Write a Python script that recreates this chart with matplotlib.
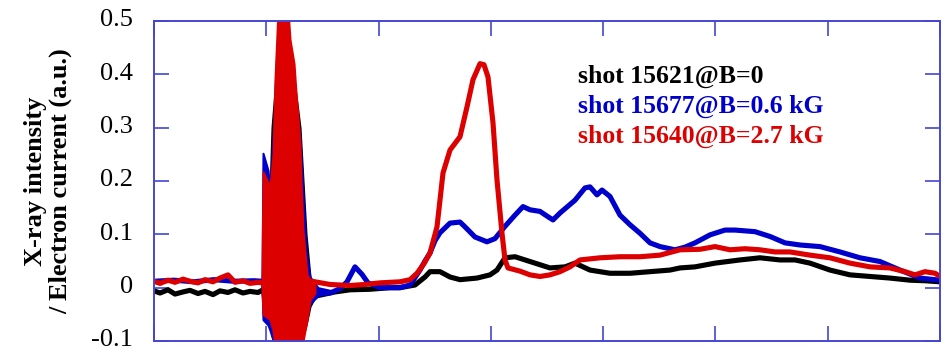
import matplotlib
matplotlib.use("Agg")
import matplotlib.pyplot as plt
import matplotlib.transforms as mtransforms
import numpy as np

plt.rcParams['font.family'] = ['Liberation Serif', 'DejaVu Serif']

# x in arbitrary sample units (axis spans 0..786, 7 tick intervals)
black_x = [0, 6, 14, 21, 29, 36, 44, 51, 59, 66, 74, 81, 89, 96, 104, 108,
           158, 166, 181, 196, 216, 236, 246, 261, 271, 276, 286, 296, 306, 323, 336, 343,
           351, 361, 371, 386, 396, 411, 421, 436, 456, 476, 496, 516, 526, 541, 561, 586,
           606, 626, 641, 656, 676, 696, 716, 736, 756, 771, 786]
black_y = [-0.006, -0.010, -0.004, -0.012, -0.008, -0.005, -0.011, -0.007, -0.013, -0.006,
           -0.009, -0.004, -0.010, -0.007, -0.009, -0.005,
           -0.017, -0.014, -0.008, -0.004, -0.003, 0.000, 0.000, 0.005, 0.020, 0.030, 0.030,
           0.020, 0.015, 0.018, 0.024, 0.033, 0.056, 0.058, 0.052, 0.043, 0.037, 0.039, 0.046,
           0.033, 0.027, 0.027, 0.030, 0.033, 0.037, 0.039, 0.046, 0.052, 0.056, 0.052, 0.052,
           0.046, 0.033, 0.024, 0.021, 0.018, 0.014, 0.013, 0.011]

blue_x = [0, 20, 40, 60, 80, 100, 108,
          161, 176, 186, 193, 201, 208, 214, 226, 246, 256, 266, 271, 276, 281, 286, 296,
          306, 311, 321, 333, 341, 351, 361, 369, 376, 386, 394, 399, 406, 421, 431, 436,
          443, 448, 456, 466, 476, 486, 496, 506, 521, 531, 541, 556, 571, 581, 601, 616,
          631, 646, 666, 686, 706, 726, 746, 766, 786]
blue_y = [0.012, 0.014, 0.011, 0.015, 0.012, 0.013, 0.012,
          -0.008, -0.010, -0.002, 0.011, 0.039, 0.025, 0.009, 0.000, 0.000, 0.005, 0.033,
          0.050, 0.065, 0.088, 0.103, 0.121, 0.123, 0.114, 0.095, 0.086, 0.092, 0.115,
          0.136, 0.152, 0.146, 0.143, 0.133, 0.127, 0.140, 0.164, 0.187, 0.189, 0.174,
          0.183, 0.171, 0.136, 0.118, 0.102, 0.084, 0.077, 0.071, 0.076, 0.084, 0.099,
          0.108, 0.108, 0.105, 0.096, 0.084, 0.080, 0.077, 0.067, 0.056, 0.049, 0.033,
          0.018, 0.014]

red_x = [0, 6, 14, 21, 29, 36, 44, 51, 59, 66, 74, 81, 89, 96, 104, 108,
         158, 176, 196, 211, 226, 246, 256, 263, 270, 276, 283, 289, 296, 306, 313, 319,
         326, 330, 334, 339, 343, 348, 351, 354, 366, 376, 386, 396, 406, 416, 426, 446,
         466, 486, 506, 526, 546, 561, 576, 591, 606, 621, 636, 656, 676, 696, 716, 736,
         751, 761, 771, 781, 786]
red_y = [0.012, 0.008, 0.014, 0.010, 0.016, 0.012, 0.009, 0.015, 0.011, 0.018, 0.024,
         0.010, 0.013, 0.008, 0.010, 0.009,
         0.012, 0.006, 0.004, 0.006, 0.009, 0.011, 0.015, 0.027, 0.045, 0.065, 0.114,
         0.215, 0.258, 0.283, 0.339, 0.390, 0.420, 0.418, 0.395, 0.309, 0.202, 0.102,
         0.052, 0.037, 0.031, 0.024, 0.021, 0.024, 0.030, 0.039, 0.052, 0.056, 0.058,
         0.058, 0.061, 0.071, 0.072, 0.077, 0.071, 0.073, 0.071, 0.067, 0.067, 0.061,
         0.056, 0.046, 0.039, 0.037, 0.030, 0.024, 0.030, 0.027, 0.021]

# envelopes of the fast oscillation burst
black_sx = [108, 111, 116, 118, 121, 123, 128, 136, 146, 152, 156, 161]
black_su = [0.000, 0.17, 0.18, 0.30, 0.37, 0.45, 0.50, 0.45, 0.30, 0.10, 0.02, -0.005]
black_sl = [-0.010, -0.06, -0.07, -0.09, -0.11, -0.11, -0.11, -0.11, -0.11, -0.07, -0.035, -0.017]

blue_sx = [108, 109, 114, 116, 121, 126, 136, 146, 152, 156, 164, 176]
blue_su = [0.012, 0.252, 0.22, 0.18, 0.35, 0.50, 0.45, 0.28, 0.07, 0.02, 0.000, -0.005]
blue_sl = [0.005, -0.06, -0.07, -0.08, -0.11, -0.11, -0.11, -0.11, -0.06, -0.03, -0.015, -0.010]

red_sx = [108, 109, 116, 119, 121, 124, 134, 136, 140, 142, 146, 147, 149, 151, 153, 156, 161]
red_su = [0.010, 0.217, 0.19, 0.25, 0.39, 0.52, 0.52, 0.465, 0.42, 0.365, 0.27, 0.20, 0.108,
          0.065, 0.025, 0.015, 0.012]
red_sl = [0.000, -0.05, -0.06, -0.08, -0.11, -0.11, -0.11, -0.11, -0.11, -0.11, -0.11, -0.11,
          -0.10, -0.08, -0.06, -0.023, -0.010]

labels = ["shot 15621@B=0", "shot 15677@B=0.6 kG", "shot 15640@B=2.7 kG"]
colors = ["#000000", "#0000cc", "#dd0000"]
yticks = [-0.1, 0, 0.1, 0.2, 0.3, 0.4, 0.5]
ytick_labels = ["-0.1", "0", "0.1", "0.2", "0.3", "0.4", "0.5"]

fig = plt.figure(figsize=(9.43, 3.51), dpi=100)
ax = fig.add_axes([154 / 943, 10 / 351, 786 / 943, 320 / 351])

series = [
    (black_x, black_y, black_sx, black_su, black_sl),
    (blue_x, blue_y, blue_sx, blue_su, blue_sl),
    (red_x, red_y, red_sx, red_su, red_sl),
]
for (x, y, sx, su, sl), c in zip(series, colors):
    ax.plot(x, y, color=c, lw=3.7, solid_joinstyle='round', zorder=2)
    ax.fill_between(sx, sl, su, color=c, lw=1.5, edgecolor=c, zorder=2)

ax.set_xlim(0, 786)
ax.set_ylim(-0.1, 0.5)
ax.set_xticks(np.linspace(0, 786, 8))
ax.set_xticklabels([])
ax.set_yticks(yticks)
ax.set_yticklabels(ytick_labels)

frame = "#4646d2"
for s in ax.spines.values():
    s.set_color(frame)
    s.set_linewidth(1.4)
ax.tick_params(axis='both', direction='in', top=True, right=True, length=11,
               width=1.2, color=frame, labelsize=19, pad=15)

shift = mtransforms.ScaledTranslation(0, 3 / 100, fig.dpi_scale_trans)
for lab in ax.get_yticklabels():
    lab.set_transform(lab.get_transform() + shift)

ax.set_ylabel("X-ray intensity\n/ Electron current (a.u.)", fontsize=19,
              fontweight='bold', linespacing=1.1, labelpad=14)

for i, (lab, c) in enumerate(zip(labels, colors)):
    ax.text(424, 0.397 - 0.0565 * i, lab, color=c, fontsize=18.5, fontweight='bold',
            ha='left', va='center', zorder=5)

fig.savefig("out.png", dpi=100)
